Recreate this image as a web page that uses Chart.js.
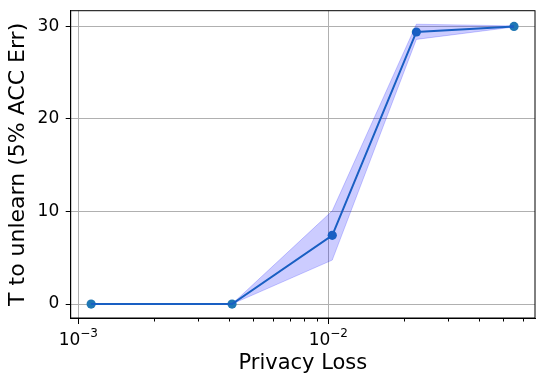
<!DOCTYPE html>
<html>
<head>
<meta charset="utf-8">
<script src="https://cdn.jsdelivr.net/npm/chart.js@4/dist/chart.umd.min.js"></script>
<style>
html,body{margin:0;padding:0;background:#fff;}
#wrap{width:544px;height:385px;}
</style>
</head>
<body>
<div id="wrap"><canvas id="c" width="544" height="385"></canvas></div>
<script>
// ---- data ----
const privacyLoss = [0.001125, 0.00412, 0.01037, 0.0225, 0.0553];
const meanT      = [0, 0, 7.42, 29.4, 30];
const upperT     = [0, 0, 10.07, 30.24, 30.06];
const lowerT     = [0, 0, 4.75, 28.6, 29.94];
const yTicks     = [0, 10, 20, 30];
const xMajorTicks = [0.001, 0.01];
const xTickBases  = ['10', '10'];
const xTickExps   = ['\u22123', '\u22122'];

const FONT = "'DejaVu Sans', sans-serif";
const pts = (ys) => privacyLoss.map((x, i) => ({x: x, y: ys[i]}));

const decoPlugin = {
  id: 'deco',
  afterDraw(chart) {
    const ctx = chart.ctx, ca = chart.chartArea, xs = chart.scales.x;
    ctx.save();
    // frame (top/right spines)
    ctx.strokeStyle = '#000';
    ctx.lineWidth = 1;
    ctx.strokeRect(ca.left, ca.top, ca.right - ca.left, ca.bottom - ca.top);
    // minor ticks
    ctx.beginPath();
    xMajorTicks.forEach(d => {
      for (let k = 2; k <= 9; k++) {
        const v = k * d;
        if (v < xs.min || v > xs.max) continue;
        const px = Math.round(xs.getPixelForValue(v)) + 0.5;
        ctx.moveTo(px, ca.bottom);
        ctx.lineTo(px, ca.bottom + 3.5);
      }
    });
    ctx.stroke();
    // major tick labels with superscript
    ctx.fillStyle = '#000';
    ctx.textBaseline = 'alphabetic';
    xMajorTicks.forEach((v, i) => {
      const px = xs.getPixelForValue(v);
      ctx.font = "17px " + FONT;
      const wb = ctx.measureText(xTickBases[i]).width;
      ctx.font = "12px " + FONT;
      const we = ctx.measureText(xTickExps[i]).width;
      const x0 = px - (wb + we) / 2;
      ctx.font = "17px " + FONT;
      ctx.textAlign = 'left';
      ctx.fillText(xTickBases[i], x0, 344.5);
      ctx.font = "12px " + FONT;
      ctx.fillText(xTickExps[i], x0 + wb, 337);
    });
    ctx.restore();
  }
};

new Chart(document.getElementById('c'), {
  type: 'line',
  data: {
    datasets: [
      {
        label: 'mean',
        data: pts(meanT),
        borderColor: 'rgb(25,95,195)',
        borderWidth: 2,
        pointRadius: 0,
        fill: false,
        tension: 0,
        order: 0
      },
      {
        label: 'upper',
        data: pts(upperT),
        borderColor: 'rgba(0,0,255,0.2)',
        backgroundColor: 'rgba(0,0,255,0.2)',
        borderWidth: 1,
        pointRadius: 0,
        fill: '+1',
        tension: 0,
        order: 1
      },
      {
        label: 'lower',
        data: pts(lowerT),
        borderColor: 'rgba(0,0,255,0.2)',
        borderWidth: 1,
        pointRadius: 0,
        fill: false,
        tension: 0,
        order: 2
      },
      {
        label: 'markers',
        data: pts(meanT),
        showLine: false,
        pointRadius: 4.6,
        pointBackgroundColor: '#1f77b4',
        pointBorderWidth: 0,
        borderColor: '#1f77b4',
        order: 3
      }
    ]
  },
  options: {
    responsive: false,
    animation: false,
    layout: {padding: {left: 0, right: 9, top: 10.7, bottom: 0}},
    plugins: {legend: {display: false}, tooltip: {enabled: false}},
    scales: {
      x: {
        type: 'logarithmic',
        min: 0.000932,
        max: 0.0671,
        afterBuildTicks: (s) => { s.ticks = xMajorTicks.map(v => ({value: v})); },
        afterFit: (s) => { s.height = 67; s.paddingLeft = 0; s.paddingRight = 0; },
        ticks: {display: false},
        grid: {color: '#b0b0b0', lineWidth: 1, tickColor: '#000', tickLength: 6, drawTicks: true},
        border: {display: true, color: '#000', width: 1},
        title: {display: true, text: 'Privacy Loss', color: '#000',
                font: {family: FONT, size: 21}, padding: {top: 0, bottom: 9}}
      },
      y: {
        type: 'linear',
        min: -1.51,
        max: 31.7,
        afterBuildTicks: (s) => { s.ticks = yTicks.map(v => ({value: v})); },
        afterFit: (s) => { s.width = 70.7; s.paddingTop = 0; s.paddingBottom = 0; },
        ticks: {color: '#000', font: {family: FONT, size: 17}, padding: 6.5},
        grid: {color: '#b0b0b0', lineWidth: 1, tickColor: '#000', tickLength: 5},
        border: {display: true, color: '#000', width: 1},
        title: {display: true, text: 'T to unlearn (5% ACC Err)', color: '#000',
                font: {family: FONT, size: 22}, padding: {top: 5, bottom: 0}}
      }
    }
  },
  plugins: [decoPlugin]
});
</script>
</body>
</html>
